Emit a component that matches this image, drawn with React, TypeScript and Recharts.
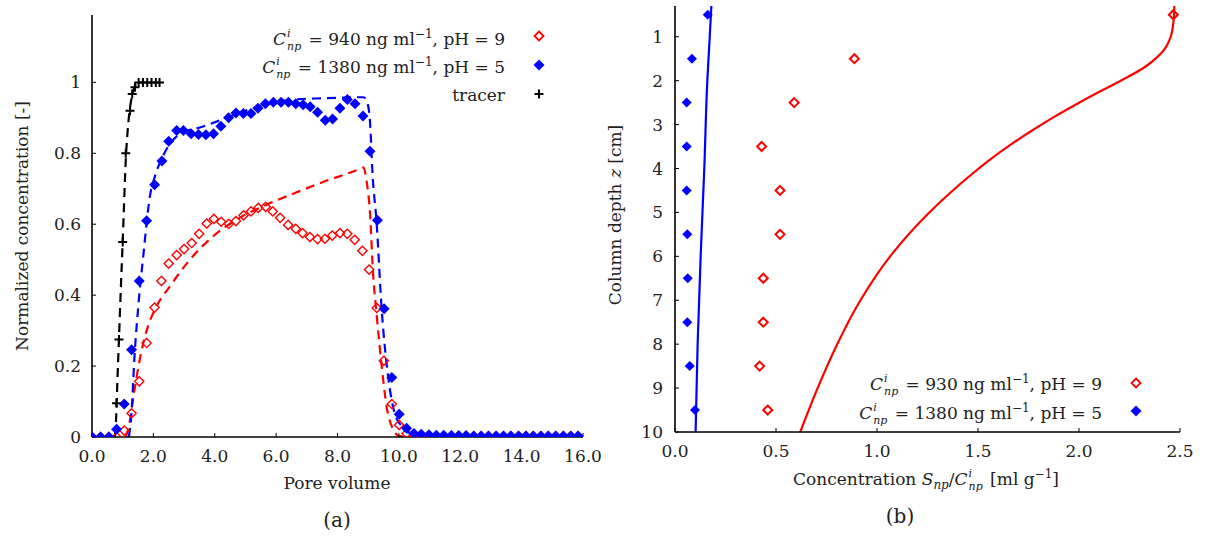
import React from "react";
import { ComposedChart, Line, Scatter, XAxis, YAxis } from "recharts";

// ---------- Panel (a): breakthrough curves ----------
const tracerPV = [0.8, 0.88, 1.0, 1.1, 1.24, 1.31, 1.4, 1.52, 1.66, 1.8, 1.94, 2.08, 2.2];
const tracerC = [0.095, 0.275, 0.55, 0.8, 0.92, 0.967, 0.986, 1.0, 1.0, 1.0, 1.0, 1.0, 1.0];
const tracerModelPV = [0.74, 0.78, 0.82, 0.88, 0.94, 1.0, 1.1, 1.2, 1.3, 1.4, 1.5];
const tracerModelC = [0.0, 0.04, 0.14, 0.28, 0.42, 0.55, 0.78, 0.9, 0.96, 0.99, 1.0];

const bluePV = [0.0, 0.28, 0.55, 0.8, 1.05, 1.29, 1.54, 1.78, 2.04, 2.28, 2.5, 2.76, 2.98, 3.23, 3.47, 3.71, 3.96, 4.2, 4.45, 4.69, 4.93, 5.18, 5.41, 5.65, 5.91, 6.16, 6.4, 6.64, 6.88, 7.11, 7.35, 7.6, 7.84, 8.08, 8.32, 8.57, 8.83, 9.06, 9.3, 9.52, 9.77, 10.01, 10.25, 10.49, 10.73, 10.98, 11.22, 11.46, 11.71, 11.95, 12.19, 12.44, 12.68, 12.92, 13.17, 13.41, 13.65, 13.9, 14.14, 14.38, 14.63, 14.87, 15.11, 15.36, 15.6, 15.84];
const blueC = [0.0, 0.0, 0.0, 0.022, 0.093, 0.246, 0.44, 0.61, 0.711, 0.778, 0.834, 0.864, 0.864, 0.855, 0.853, 0.852, 0.855, 0.876, 0.9, 0.914, 0.912, 0.912, 0.927, 0.94, 0.944, 0.944, 0.944, 0.94, 0.937, 0.931, 0.916, 0.893, 0.897, 0.927, 0.952, 0.94, 0.905, 0.806, 0.611, 0.362, 0.168, 0.064, 0.025, 0.01, 0.008, 0.006, 0.005, 0.005, 0.004, 0.004, 0.004, 0.003, 0.003, 0.003, 0.003, 0.003, 0.003, 0.003, 0.003, 0.003, 0.003, 0.003, 0.003, 0.003, 0.003, 0.003];
const blueModelPV = [1.2, 1.29, 1.38, 1.51, 1.67, 1.89, 2.05, 2.3, 2.87, 3.6, 4.39, 5.0, 5.9, 6.78, 7.5, 8.2, 8.62, 8.85, 8.98, 9.05, 9.15, 9.27, 9.44, 9.65, 9.87, 10.1, 10.36, 11.0];
const blueModelC = [0.0, 0.07, 0.22, 0.37, 0.51, 0.68, 0.735, 0.79, 0.855, 0.875, 0.9, 0.92, 0.943, 0.953, 0.955, 0.957, 0.958, 0.958, 0.94, 0.9, 0.73, 0.61, 0.36, 0.17, 0.065, 0.03, 0.01, 0.0];

const redPV = [0.0, 0.28, 0.55, 0.8, 1.05, 1.29, 1.54, 1.78, 2.04, 2.26, 2.5, 2.76, 3.0, 3.25, 3.49, 3.74, 3.97, 4.21, 4.46, 4.69, 4.94, 5.18, 5.42, 5.66, 5.89, 6.13, 6.39, 6.64, 6.86, 7.1, 7.35, 7.59, 7.83, 8.08, 8.32, 8.56, 8.81, 9.03, 9.28, 9.51, 9.77, 10.01, 10.25, 10.49, 10.73, 10.98, 11.22, 11.46, 11.71, 11.95, 12.19, 12.44, 12.68, 12.92, 13.17, 13.41, 13.65, 13.9, 14.14, 14.38, 14.63, 14.87, 15.11, 15.36, 15.6, 15.84];
const redC = [0.0, 0.0, 0.0, 0.0, 0.018, 0.067, 0.157, 0.265, 0.365, 0.44, 0.489, 0.513, 0.53, 0.547, 0.573, 0.602, 0.615, 0.607, 0.601, 0.609, 0.625, 0.636, 0.646, 0.649, 0.636, 0.618, 0.598, 0.587, 0.575, 0.564, 0.558, 0.559, 0.568, 0.575, 0.573, 0.556, 0.525, 0.472, 0.364, 0.215, 0.093, 0.034, 0.01, 0.005, 0.003, 0.003, 0.002, 0.002, 0.002, 0.002, 0.002, 0.002, 0.002, 0.002, 0.002, 0.002, 0.002, 0.002, 0.002, 0.002, 0.002, 0.002, 0.002, 0.002, 0.002, 0.002];
const redModelPV = [1.1, 1.2, 1.35, 1.56, 1.78, 2.05, 2.54, 3.19, 3.95, 4.71, 5.69, 6.67, 7.75, 8.3, 8.67, 8.85, 8.95, 9.06, 9.16, 9.27, 9.44, 9.6, 9.82, 10.0, 10.3, 11.0];
const redModelC = [0.0, 0.03, 0.114, 0.22, 0.3, 0.36, 0.425, 0.5, 0.566, 0.613, 0.655, 0.69, 0.726, 0.742, 0.754, 0.76, 0.72, 0.63, 0.46, 0.35, 0.2, 0.086, 0.02, 0.003, 0.0, 0.0];

const aXTicks = [0, 2, 4, 6, 8, 10, 12, 14, 16];
const aYTicks = [0, 0.2, 0.4, 0.6, 0.8, 1.0];

// ---------- Panel (b): retention profiles ----------
const depthObs = [0.5, 1.5, 2.5, 3.5, 4.5, 5.5, 6.5, 7.5, 8.5, 9.5];
const redObs = [2.467, 0.888, 0.59, 0.429, 0.52, 0.52, 0.437, 0.437, 0.419, 0.459];
const blueObs = [0.162, 0.084, 0.058, 0.058, 0.058, 0.061, 0.063, 0.061, 0.073, 0.099];
const redModelDepth = [0.3, 0.64, 1.0, 1.24, 1.47, 1.66, 1.85, 2.08, 2.3, 2.57, 2.83, 3.14, 3.44, 3.82, 4.2, 4.58, 5.0, 6.0, 7.0, 8.0, 9.0, 10.0];
const redModelS = [2.472, 2.468, 2.454, 2.43, 2.386, 2.335, 2.268, 2.174, 2.082, 1.974, 1.875, 1.766, 1.667, 1.553, 1.451, 1.356, 1.259, 1.065, 0.918, 0.803, 0.706, 0.62];
const blueModelDepth = [0.3, 1.0, 2.0, 4.0, 6.0, 8.0, 10.0];
const blueModelS = [0.18, 0.172, 0.16, 0.145, 0.127, 0.112, 0.102];

const bXTicks = [0, 0.5, 1.0, 1.5, 2.0, 2.5];
const bYTicks = [1, 2, 3, 4, 5, 6, 7, 8, 9, 10];

const zip = (xs: number[], ys: number[]) => xs.map((x, i) => ({ x, y: ys[i] }));

const RED = "#ff0000";
const BLUE = "#0000ff";
const FONT = "'DejaVu Serif', 'Liberation Serif', serif";
const TXT = "#222";
const FS = 17;

const OpenDiamond = (r: number, sw: number) => (p: any) => {
  const { cx, cy } = p;
  if (cx == null || cy == null) return <g />;
  return (
    <path d={`M${cx},${cy - r}L${cx + r},${cy}L${cx},${cy + r}L${cx - r},${cy}Z`} fill="none" stroke={RED} strokeWidth={sw} />
  );
};
const FilledDiamond = (r: number) => (p: any) => {
  const { cx, cy } = p;
  if (cx == null || cy == null) return <g />;
  return <path d={`M${cx},${cy - r}L${cx + r},${cy}L${cx},${cy + r}L${cx - r},${cy}Z`} fill={BLUE} stroke="none" />;
};
const Plus = (p: any) => {
  const { cx, cy } = p;
  if (cx == null || cy == null) return <g />;
  const r = 4.5;
  return <path d={`M${cx - r},${cy}H${cx + r}M${cx},${cy - r}V${cy + r}`} stroke="#000" strokeWidth={2} fill="none" />;
};

// C^i_np as SVG tspans; the following tspan restores the baseline
const CnpSpans = (after: string) => [
  <tspan key="c" fontStyle="italic">C</tspan>,
  <tspan key="i" fontStyle="italic" fontSize={11} dx={1} dy={-8}>i</tspan>,
  <tspan key="np" fontStyle="italic" fontSize={11} dx={-3.5} dy={13}>np</tspan>,
  <tspan key="a" dx={2} dy={-5}>{after}</tspan>,
];

const LegendText = ({ x, y, conc, ph }: { x: number; y: number; conc: string; ph: string }) => (
  <text x={x} y={y} textAnchor="end" fontFamily={FONT} fontSize={FS} fill={TXT}>
    {CnpSpans(` = ${conc} ng ml`)}
    <tspan fontSize={12} dy={-7}>−1</tspan>
    <tspan dy={7}>{`, pH = ${ph}`}</tspan>
  </text>
);

const Marker = ({ x, y, kind }: { x: number; y: number; kind: string }) => {
  if (kind === "open") return <path d={`M${x},${y - 4.5}L${x + 4.5},${y}L${x},${y + 4.5}L${x - 4.5},${y}Z`} fill="none" stroke={RED} strokeWidth={1.8} />;
  if (kind === "filled") return <path d={`M${x},${y - 5.5}L${x + 5.5},${y}L${x},${y + 5.5}L${x - 5.5},${y}Z`} fill={BLUE} />;
  return <path d={`M${x - 4.5},${y}H${x + 4.5}M${x},${y - 4.5}V${y + 4.5}`} stroke="#000" strokeWidth={2} />;
};

const tickStyle = { fontFamily: FONT, fontSize: FS, fill: TXT };
const axisLine = { stroke: "#000", strokeWidth: 1.6 };
const tickLine = { stroke: "#000", strokeWidth: 1 };

export default function App() {
  return (
    <div style={{ position: "absolute", left: 0, top: 0, width: 1205, height: 540, background: "#fff" }}>
      {/* Panel (a) */}
      <div style={{ position: "absolute", left: 0, top: 0 }}>
        <ComposedChart width={625} height={540} margin={{ top: 15, right: 42, bottom: 0, left: 0 }}>
          <XAxis xAxisId="b" dataKey="x" type="number" domain={[0, 16]} ticks={aXTicks} allowDataOverflow
            tickFormatter={(v: number) => v.toFixed(1)} height={103} tickSize={-4} tickMargin={17}
            tick={tickStyle} axisLine={axisLine} tickLine={tickLine} />
          <XAxis xAxisId="t" orientation="top" type="number" domain={[0, 16]} height={0} tick={false} tickLine={false} axisLine={axisLine} />
          <YAxis yAxisId="l" dataKey="y" type="number" domain={[0, 1.19]} ticks={aYTicks} allowDataOverflow
            tickFormatter={(v: number) => (v === 0 ? "0" : v === 1 ? "1" : v.toFixed(1))} width={92} tickSize={-4} tickMargin={15}
            tick={tickStyle} axisLine={axisLine} tickLine={tickLine} />
          <YAxis yAxisId="r" orientation="right" type="number" domain={[0, 1.19]} ticks={aYTicks} width={0}
            tickSize={-4} tick={false} axisLine={axisLine} tickLine={tickLine} />
          <Line xAxisId="b" yAxisId="l" data={zip(redModelPV, redModelC)} dataKey="y" type="monotone" stroke={RED} strokeWidth={2.2} strokeDasharray="9 6" dot={false} isAnimationActive={false} />
          <Line xAxisId="b" yAxisId="l" data={zip(blueModelPV, blueModelC)} dataKey="y" type="monotone" stroke={BLUE} strokeWidth={2.2} strokeDasharray="9 6" dot={false} isAnimationActive={false} />
          <Line xAxisId="b" yAxisId="l" data={zip(tracerModelPV, tracerModelC)} dataKey="y" type="monotone" stroke="#000" strokeWidth={2.2} strokeDasharray="9 6" dot={false} isAnimationActive={false} />
          <Scatter xAxisId="b" yAxisId="l" data={zip(redPV, redC)} dataKey="y" shape={OpenDiamond(4.6, 1.4)} isAnimationActive={false} />
          <Scatter xAxisId="b" yAxisId="l" data={zip(bluePV, blueC)} dataKey="y" shape={FilledDiamond(5.5)} isAnimationActive={false} />
          <Scatter xAxisId="b" yAxisId="l" data={zip(tracerPV, tracerC)} dataKey="y" shape={Plus} isAnimationActive={false} />
        </ComposedChart>
      </div>

      {/* Panel (b) */}
      <div style={{ position: "absolute", left: 600, top: 0 }}>
        <ComposedChart width={605} height={540} margin={{ top: 6, right: 25, bottom: 0, left: 0 }}>
          <XAxis xAxisId="b" dataKey="x" type="number" domain={[0, 2.5]} ticks={bXTicks} allowDataOverflow
            tickFormatter={(v: number) => v.toFixed(1)} height={108} tickSize={-4} tickMargin={17}
            tick={tickStyle} axisLine={axisLine} tickLine={tickLine} />
          <XAxis xAxisId="t" orientation="top" type="number" domain={[0, 2.5]} height={0} tick={false} tickLine={false} axisLine={axisLine} />
          <YAxis yAxisId="l" dataKey="y" type="number" domain={[0.3, 10]} reversed ticks={bYTicks} allowDataOverflow
            width={75} tickSize={-4} tickMargin={16} tick={tickStyle} axisLine={axisLine} tickLine={tickLine} />
          <YAxis yAxisId="r" orientation="right" type="number" domain={[0.3, 10]} reversed ticks={bYTicks} width={0}
            tickSize={-4} tick={false} axisLine={axisLine} tickLine={tickLine} />
          <Line xAxisId="b" yAxisId="l" data={zip(redModelS, redModelDepth)} dataKey="y" type="monotoneY" stroke={RED} strokeWidth={2.2} dot={false} isAnimationActive={false} />
          <Line xAxisId="b" yAxisId="l" data={zip(blueModelS, blueModelDepth)} dataKey="y" type="monotoneY" stroke={BLUE} strokeWidth={2.2} dot={false} isAnimationActive={false} />
          <Scatter xAxisId="b" yAxisId="l" data={zip(redObs, depthObs)} dataKey="y" shape={OpenDiamond(4.5, 2)} isAnimationActive={false} />
          <Scatter xAxisId="b" yAxisId="l" data={zip(blueObs, depthObs)} dataKey="y" shape={FilledDiamond(5)} isAnimationActive={false} />
        </ComposedChart>
      </div>

      {/* Text overlay: legends and axis titles */}
      <svg width={1205} height={540} style={{ position: "absolute", left: 0, top: 0, pointerEvents: "none" }}>
        <LegendText x={505} y={45} conc="940" ph="9" />
        <LegendText x={505} y={73} conc="1380" ph="5" />
        <text x={505} y={101} textAnchor="end" fontFamily={FONT} fontSize={FS} fill={TXT}>tracer</text>
        <Marker x={539} y={36} kind="open" />
        <Marker x={539} y={65} kind="filled" />
        <Marker x={539} y={94} kind="plus" />

        <LegendText x={1102} y={390} conc="930" ph="9" />
        <LegendText x={1102} y={419} conc="1380" ph="5" />
        <Marker x={1136} y={383} kind="open" />
        <Marker x={1136} y={411} kind="filled" />

        <text x={28} y={226} transform="rotate(-90 28 226)" textAnchor="middle" fontFamily={FONT} fontSize={FS} fill={TXT}>
          Normalized concentration [-]
        </text>
        <text x={337} y={489} textAnchor="middle" fontFamily={FONT} fontSize={FS} fill={TXT}>Pore volume</text>
        <text x={337} y={527} textAnchor="middle" fontFamily={FONT} fontSize={20} fill={TXT}>(a)</text>

        <text x={621} y={215} transform="rotate(-90 621 215)" textAnchor="middle" fontFamily={FONT} fontSize={FS} fill={TXT}>
          Column depth <tspan fontStyle="italic">z</tspan> [cm]
        </text>
        <text x={926} y={485} textAnchor="middle" fontFamily={FONT} fontSize={FS} fill={TXT}>
          <tspan>Concentration </tspan>
          <tspan fontStyle="italic">S</tspan>
          <tspan fontStyle="italic" fontSize={12} dy={4}>np</tspan>
          <tspan dy={-4}>/</tspan>
          {CnpSpans(" [ml g")}
          <tspan fontSize={12} dy={-7}>−1</tspan>
          <tspan dy={7}>]</tspan>
        </text>
        <text x={900} y={523} textAnchor="middle" fontFamily={FONT} fontSize={20} fill={TXT}>(b)</text>
      </svg>
    </div>
  );
}
